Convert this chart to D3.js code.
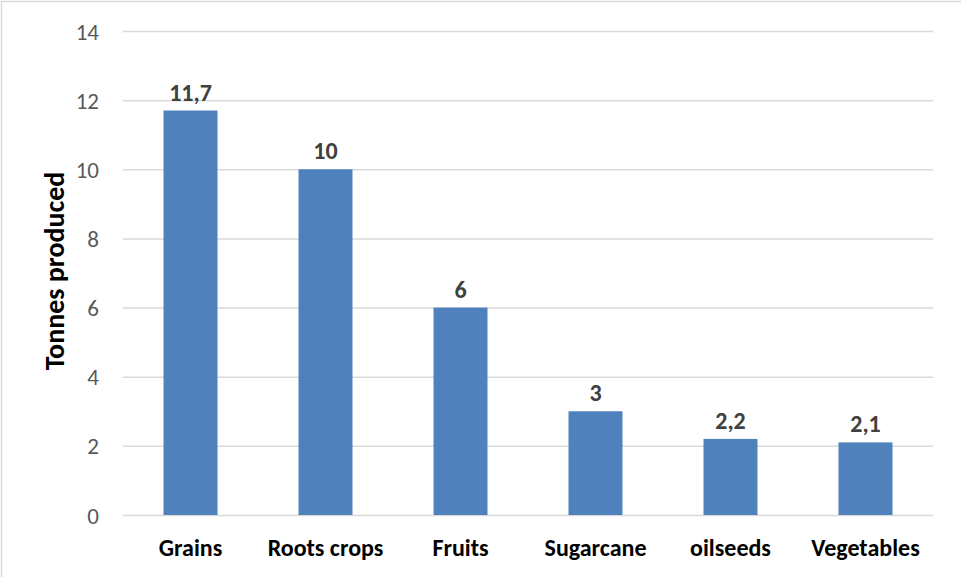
<!DOCTYPE html>
<html>
<head>
<meta charset="utf-8">
<script src="https://cdn.jsdelivr.net/npm/d3@7"></script>
<style>
  html, body { margin: 0; padding: 0; background: #fff; }
  svg { display: block; font-family: Carlito, Lato, "Open Sans", sans-serif; }
</style>
</head>
<body>
<svg id="chart" width="961" height="577"></svg>
<script>
const categories = ["Grains", "Roots crops", "Fruits", "Sugarcane", "oilseeds", "Vegetables"];
const values = [11.7, 10, 6, 3, 2.2, 2.1];
const valueLabels = ["11,7", "10", "6", "3", "2,2", "2,1"];
const yTicks = [0, 2, 4, 6, 8, 10, 12, 14];
const yTitle = "Tonnes produced";

const svg = d3.select("#chart");
const W = 961, H = 577;
const margin = { left: 123, right: 28, top: 31, bottom: 62 };

svg.append("rect").attr("x", 1.5).attr("y", 1.5).attr("width", W + 5).attr("height", H + 5)
  .attr("fill", "#fff").attr("stroke", "#d9d9d9").attr("stroke-width", 1.5);

const x = d3.scaleBand().domain(categories)
  .range([margin.left, W - margin.right]).paddingInner(0.6).paddingOuter(0.3);
const y = d3.scaleLinear().domain([0, 14]).range([H - margin.bottom, margin.top]);

// gridlines
const yAxis = d3.axisLeft(y).tickValues(yTicks).tickSize(-(W - margin.left - margin.right)).tickPadding(24);
const gy = svg.append("g").attr("transform", `translate(${margin.left},0)`).call(yAxis);
gy.select(".domain").remove();
gy.selectAll(".tick line").attr("stroke", "#d9d9d9").attr("stroke-width", 1.5);
gy.selectAll(".tick text").attr("fill", "#595959").style("font-size", "23px")
  .style("font-family", "Carlito, Lato, sans-serif").attr("dy", "0.35em");

// bars
svg.append("g").selectAll("rect").data(values).join("rect")
  .attr("x", (d, i) => x(categories[i]))
  .attr("width", x.bandwidth())
  .attr("y", d => y(d))
  .attr("height", d => y(0) - y(d))
  .attr("fill", "#4f81bd");

// data labels
svg.append("g").selectAll("text").data(values).join("text")
  .attr("x", (d, i) => x(categories[i]) + x.bandwidth() / 2)
  .attr("y", d => y(d) - 10)
  .attr("text-anchor", "middle")
  .attr("fill", "#404040")
  .style("font-size", "24px").style("font-weight", "bold")
  .text((d, i) => valueLabels[i]);

// x axis
const xAxis = d3.axisBottom(x).tickSize(0);
const gx = svg.append("g").attr("transform", `translate(0,${y(0)})`).call(xAxis);
gx.select(".domain").remove();
gx.selectAll(".tick text").attr("fill", "#000").attr("y", 0).attr("dy", 41)
  .style("font-size", "24px")
  .style("font-weight", "bold").style("font-family", "Carlito, Lato, sans-serif");

// y title
svg.append("text")
  .attr("transform", `translate(64,${(y(0) + y(14)) / 2 - 2}) rotate(-90)`)
  .attr("text-anchor", "middle")
  .attr("fill", "#000")
  .style("font-size", "28px").style("font-weight", "bold")
  .text(yTitle);
</script>
</body>
</html>
